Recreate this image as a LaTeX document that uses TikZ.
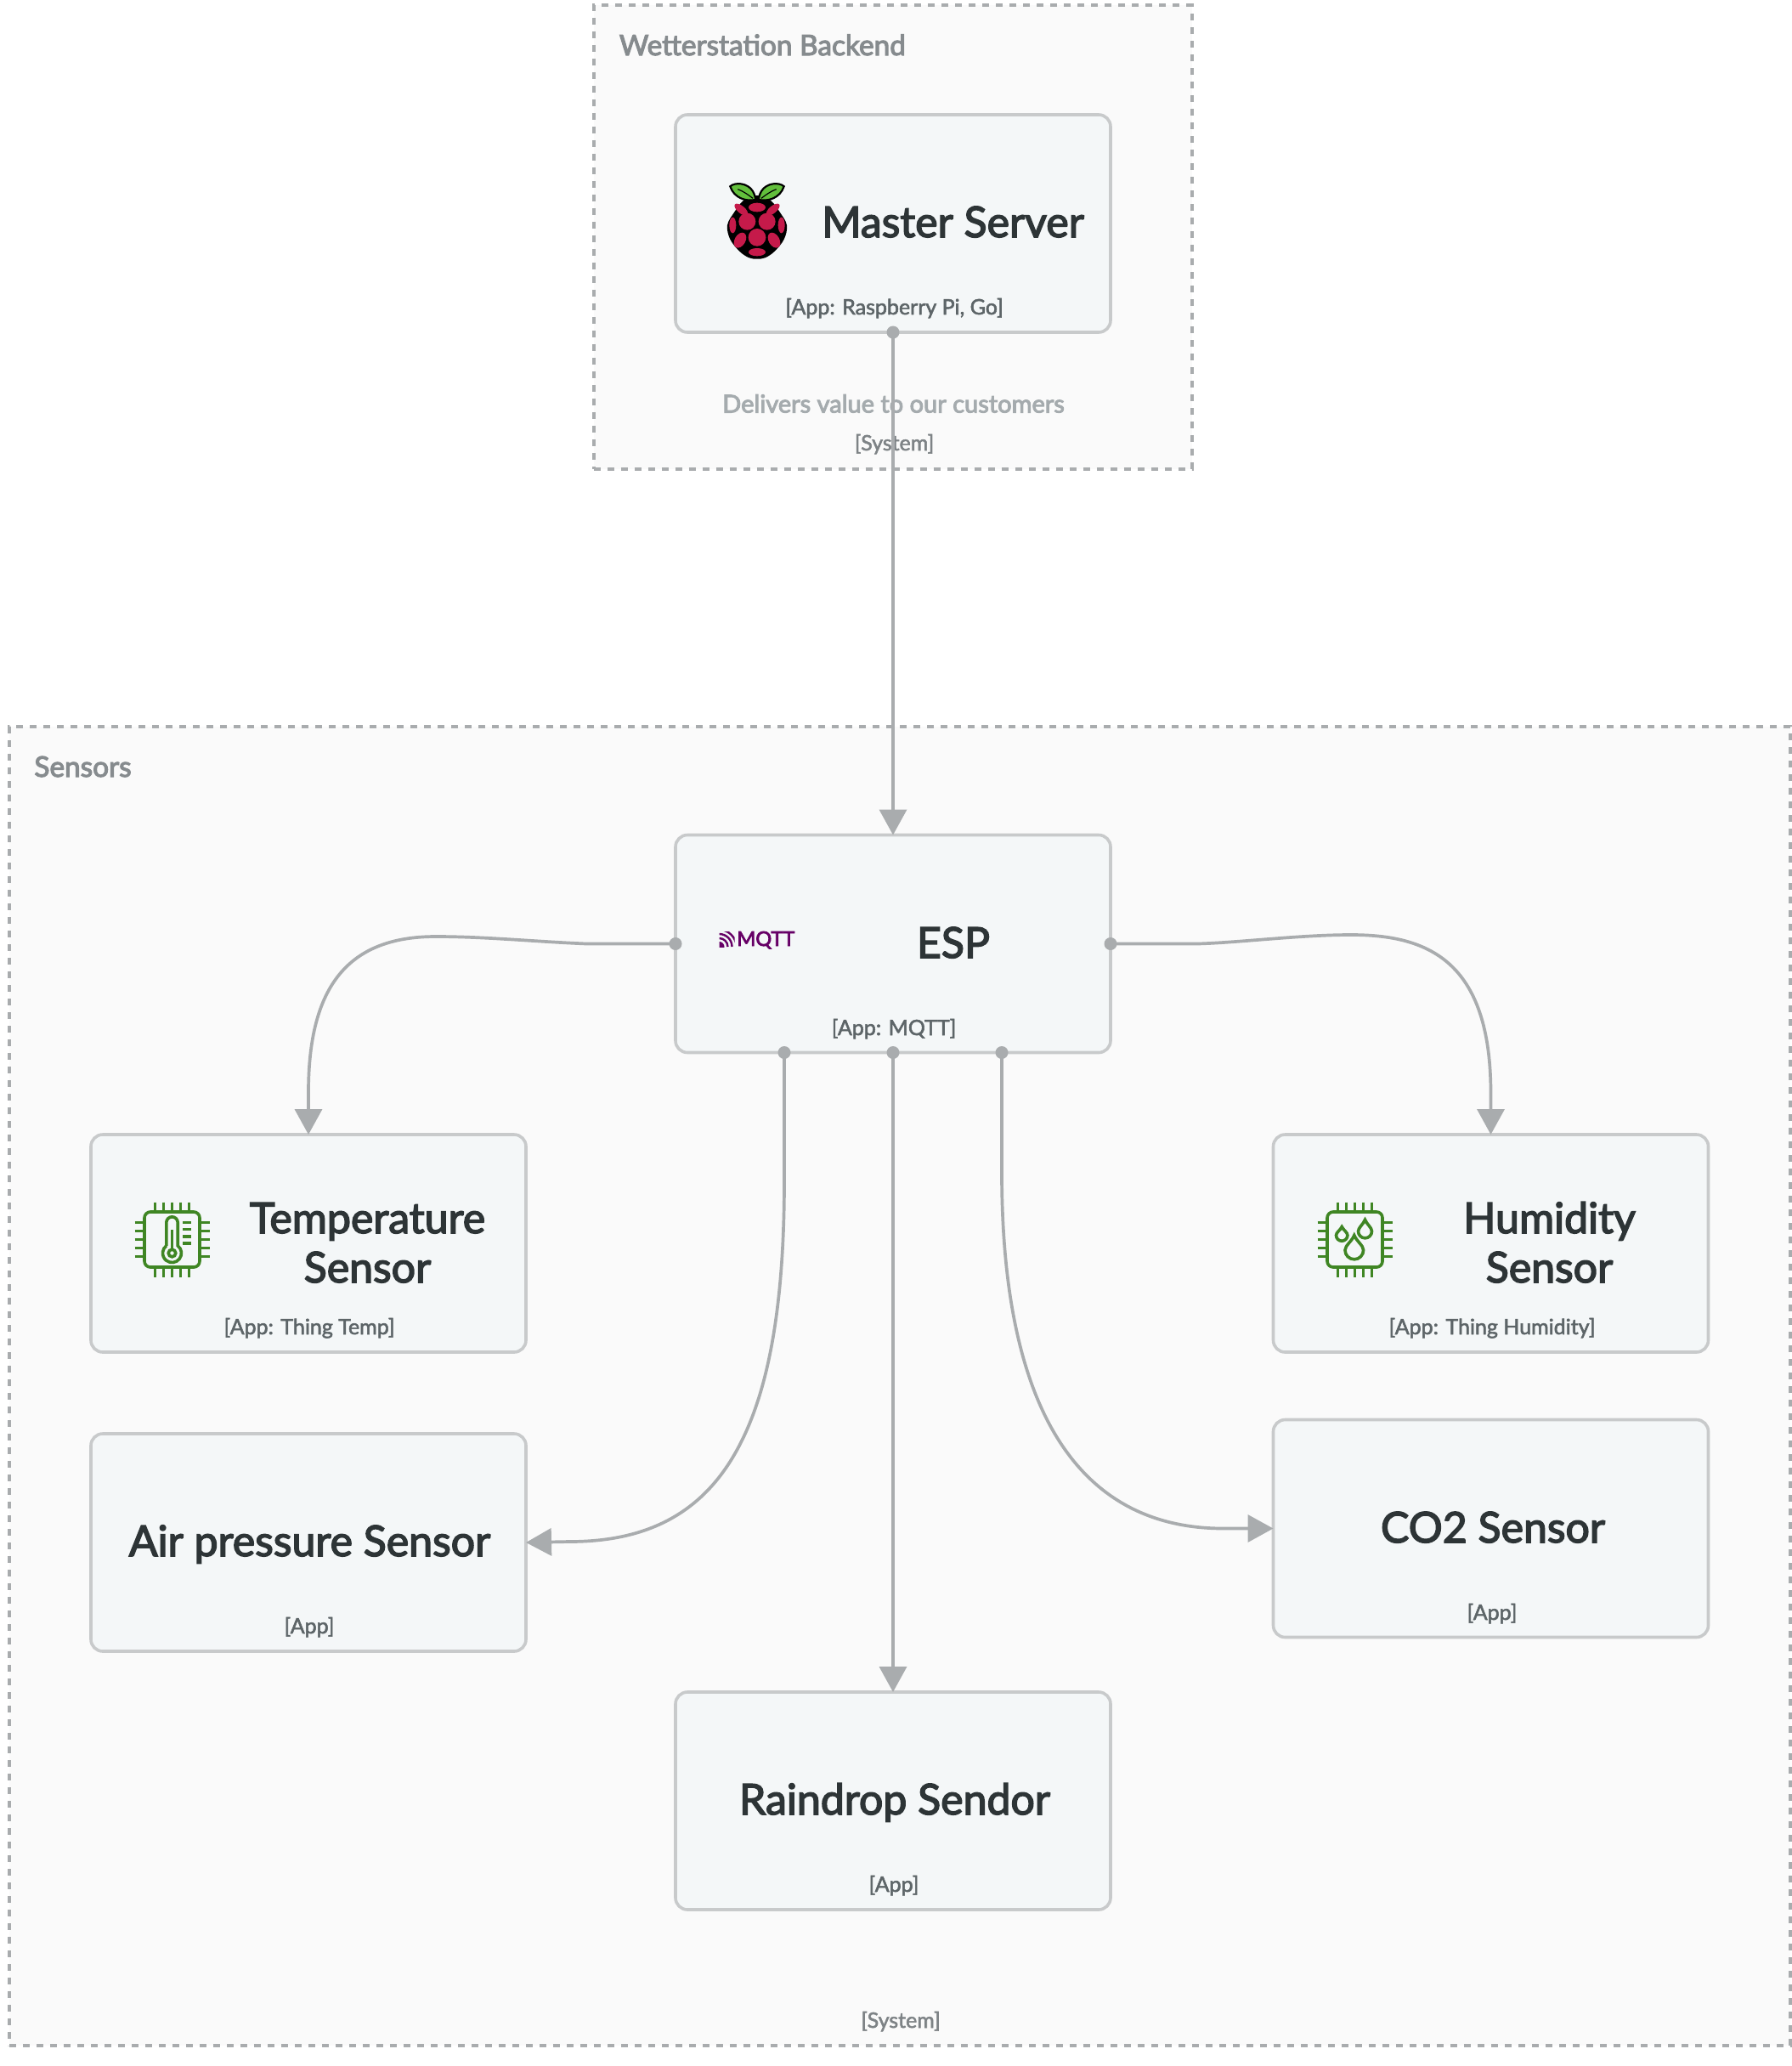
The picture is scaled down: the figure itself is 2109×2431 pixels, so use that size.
\documentclass[tikz,border=0pt]{standalone}
\usepackage{fontspec}
\usetikzlibrary{arrows.meta,calc}
\setmainfont{Lato}
\newfontfamily\latotitle[FakeBold=3.0]{Lato}
\newfontfamily\latotag[FakeBold=2.2]{Lato}
\newfontfamily\latogroup[FakeBold=3.4]{Lato}
\definecolor{edgec}{HTML}{A9ACAE}
\definecolor{boxline}{HTML}{C8CACB}
\definecolor{boxfill}{HTML}{F4F7F8}
\definecolor{groupfill}{HTML}{FAFAFA}
\definecolor{titlec}{HTML}{2D3436}
\definecolor{tagc}{HTML}{5D6568}
\definecolor{grouptitlec}{HTML}{868B8E}
\definecolor{descc}{HTML}{A5ABAE}
\definecolor{systagc}{HTML}{7E8386}
\definecolor{chipgreen}{HTML}{3F8624}
\definecolor{rasp}{HTML}{C51A4A}
\definecolor{leaf}{HTML}{62BF3C}
\definecolor{mqttc}{HTML}{660066}
\tikzset{
  x=0.5pt,y=-0.5pt,
  groupbox/.style={rectangle,draw=edgec,fill=groupfill,line width=2pt,dash pattern=on 4pt off 4pt,inner sep=0pt,outer sep=0pt},
  appbox/.style={rectangle,draw=boxline,fill=boxfill,line width=1.8pt,rounded corners=7pt,inner sep=0pt,outer sep=0pt,minimum width=256pt,minimum height=128pt},
  apptitle/.style={anchor=base,inner sep=0pt,align=center,text=titlec,font=\latotitle\fontsize{25}{29}\selectfont},
  apptag/.style={anchor=base,inner sep=0pt,text=tagc,font=\latotag\fontsize{12.5}{15}\selectfont},
  grouptitle/.style={anchor=base west,inner sep=0pt,text=grouptitlec,font=\latogroup\fontsize{16.7}{20}\selectfont},
  groupdesc/.style={anchor=base,inner sep=0pt,text=descc,font=\latogroup\fontsize{14.5}{18}\selectfont},
  systag/.style={anchor=base,inner sep=0pt,text=systagc,font=\latotag\fontsize{12.5}{15}\selectfont},
  link/.style={draw=edgec,line width=1.85pt,-{Triangle[length=15pt,width=16pt]}},
  startdot/.style={fill=edgec},
  chipicon/.style={draw=chipgreen,line width=1.8pt,line cap=butt},
  chip/.pic={
    \draw[chipicon,rounded corners=3.5pt] (-32.5,-32.5) rectangle (32.5,32.5);
    \foreach \p in {-20,-10,0,10,20}{
      \draw[chipicon] (\p,-44) -- (\p,-32.5);
      \draw[chipicon] (\p,32.5) -- (\p,44);
      \draw[chipicon] (-44,\p) -- (-32.5,\p);
      \draw[chipicon] (32.5,\p) -- (44,\p);
    }
  },
}
\begin{document}
\begin{tikzpicture}
\path[use as bounding box,fill=white] (0,0) rectangle (2109,2431);

% groups
\node[groupbox,minimum width=352pt,minimum height=272.75pt] (backend) at (1050.5,279.2) {};
\node[groupbox,minimum width=1048pt,minimum height=776pt] (sensors) at (1059,1631) {};

% application boxes
\node[appbox] (master) at (1051,263) {};
\node[appbox] (esp) at (1051,1110.5) {};
\node[appbox] (temp) at (363,1463) {};
\node[appbox] (humid) at (1754.5,1463) {};
\node[appbox] (air) at (363,1815) {};
\node[appbox] (co2) at (1754.5,1798.5) {};
\node[appbox] (rain) at (1051,2119) {};

% group texts
\node[grouptitle] (backendtitle) at (728.5,65) {Wetterstation Backend};
\node[groupdesc] (backenddesc) at (1051.5,485.5) {Delivers value to our customers};
\node[systag] (backendsys) at (1052.5,530) {[System]};
\node[grouptitle] (sensorstitle) at (40,914) {Sensors};
\node[systag] (sensorssys) at (1060,2386) {[System]};

% box texts
\node[apptitle] (mastert) at (1121.5,279) {Master Server};
\node[apptag] (mastertag) at (1052.5,370) {[App: Raspberry Pi, Go]};
\node[apptitle] (espt) at (1122,1127) {ESP};
\node[apptag] (esptag) at (1052,1218) {[App: MQTT]};
\node[apptitle] (tempt) at (432.5,1451) {Temperature};
\node[apptitle] (tempt2) at (432.5,1509) {Sensor};
\node[apptag] (temptag) at (364,1570) {[App: Thing Temp]};
\node[apptitle] (humidt) at (1823.5,1451) {Humidity};
\node[apptitle] (humidt2) at (1823.5,1509) {Sensor};
\node[apptag] (humidtag) at (1756,1570) {[App: Thing Humidity]};
\node[apptitle] (airt) at (364.5,1831) {Air pressure Sensor};
\node[apptag] (airtag) at (364,1922) {[App]};
\node[apptitle] (co2t) at (1757,1815) {CO2 Sensor};
\node[apptag] (co2tag) at (1756,1906) {[App]};
\node[apptitle] (raint) at (1053,2135) {Raindrop Sendor};
\node[apptag] (raintag) at (1052,2226) {[App]};

% raspberry icon
\begin{scope}[shift={(840,200)},scale=0.3333]
  \fill[black] plot[smooth cycle,tension=0.6] coordinates {(153,90) (105,108) (72,150) (48,195) (58,245) (92,288) (125,310) (153,314) (181,310) (214,288) (248,245) (258,195) (234,150) (201,108)};
  \filldraw[fill=leaf,draw=black,line width=1.1pt] (58,58) .. controls (75,42) and (120,45) .. (138,75) .. controls (145,88) and (147,98) .. (147,105) .. controls (115,112) and (72,100) .. (58,58) -- cycle;
  \filldraw[fill=leaf,draw=black,line width=1.1pt] (248,58) .. controls (231,42) and (186,45) .. (168,75) .. controls (161,88) and (159,98) .. (159,105) .. controls (191,112) and (234,100) .. (248,58) -- cycle;
  \draw[black,line width=0.6pt] (85,68) .. controls (105,75) and (125,90) .. (138,100);
  \draw[black,line width=0.6pt] (221,68) .. controls (201,75) and (181,90) .. (168,100);
  \fill[rasp] (118,182) circle (30);
  \fill[rasp] (188,182) circle (30);
  \fill[rasp] (153,238) circle (31);
  \fill[rasp] (153,132) circle[x radius=30,y radius=16];
  \fill[rasp] (97,140) circle[x radius=29,y radius=13,rotate=-40];
  \fill[rasp] (209,140) circle[x radius=29,y radius=13,rotate=40];
  \fill[rasp] (67,195) circle[x radius=12,y radius=28];
  \fill[rasp] (239,195) circle[x radius=12,y radius=28];
  \fill[rasp] (93,248) circle[x radius=19,y radius=29,rotate=-30];
  \fill[rasp] (213,248) circle[x radius=19,y radius=29,rotate=30];
  \fill[rasp] (153,290) circle[x radius=30,y radius=14];
\end{scope}

% mqtt logo
\node[anchor=base west,inner sep=0pt,text=mqttc,font=\latogroup\fontsize{11.8}{14}\selectfont] (mqtt) at (867,1113) {MQTT};
\begin{scope}[shift={(846.5,1114)}]
  \clip (0,-18) rectangle (18,0);
  \fill[mqttc] (0,0) circle (6);
  \draw[mqttc,line width=1.2pt] (0,-10) arc[start angle=270,end angle=360,radius=10];
  \draw[mqttc,line width=1.2pt] (0,-15) arc[start angle=270,end angle=360,radius=15];
  \draw[mqttc,line width=1.2pt] (0,-20) arc[start angle=270,end angle=360,radius=20];
\end{scope}

% chip icons
\pic at (202.5,1458.5) {chip};
\begin{scope}[shift={(202.5,1458.5)}]
  \draw[chipicon] (-6.7,7.3) -- (-6.7,-20) arc[start angle=180,end angle=360,radius=6.7] -- (6.7,7.3) arc[start angle=-52.4,end angle=232.4,radius=11];
  \draw[chipicon] (0,16) circle (4.3);
  \draw[chipicon] (0,-11.7) -- (0,11.7);
  \foreach \t in {-20,-12,-3.3,4.3}{\draw[chipicon] (12.7,\t) -- (22,\t);}
\end{scope}
\pic at (1594.5,1458.5) {chip};
\begin{scope}[shift={(1594.5,1458.5)}]
  \draw[chipicon] (12,-23.3) .. controls (14,-18) and (20,-14) .. (20,-9.7) arc[start angle=0,end angle=180,radius=8] .. controls (4,-14) and (10,-18) .. (12,-23.3) -- cycle;
  \draw[chipicon] (-15.3,-15) .. controls (-13.5,-11) and (-8.6,-8.5) .. (-8.6,-5) arc[start angle=0,end angle=180,radius=6.7] .. controls (-22,-8.5) and (-17,-11) .. (-15.3,-15) -- cycle;
  \draw[chipicon] (-0.7,-5) .. controls (2,2) and (10.1,7) .. (10.1,12.5) arc[start angle=0,end angle=180,radius=10.8] .. controls (-11.5,7) and (-3.4,2) .. (-0.7,-5) -- cycle;
\end{scope}

% connector ends on the bottom side of ESP
\coordinate (espbl) at ($(esp.south)+(-128,0)$);
\coordinate (espbr) at ($(esp.south)+(128,0)$);

% connectors
\draw[link] (master.south) -- (esp.north);
\draw[link] (esp.west) -- ++(-105,0) .. controls (630,1108) and (570,1102) .. (513,1102) .. controls (410,1102) and (363,1160) .. (363,1285) -- (temp.north);
\draw[link] (esp.east) -- ++(103,0) .. controls (1460,1109) and (1530,1100) .. (1590,1100) .. controls (1680,1100) and (1754,1130) .. (1754.5,1285) -- (humid.north);
\draw[link] (espbl) -- (923,1390) .. controls (923,1700) and (840,1814) .. (670,1814) -- (air.east);
\draw[link] (espbr) -- (1179,1380) .. controls (1179,1660) and (1270,1798.5) .. (1440,1798.5) -- (co2.west);
\draw[link] (esp.south) -- (rain.north);
\fill[startdot] (master.south) circle (7.5);
\fill[startdot] (esp.west) circle (7.5);
\fill[startdot] (esp.east) circle (7.5);
\fill[startdot] (esp.south) circle (7.5);
\fill[startdot] (espbl) circle (7.5);
\fill[startdot] (espbr) circle (7.5);
\end{tikzpicture}
\end{document}
